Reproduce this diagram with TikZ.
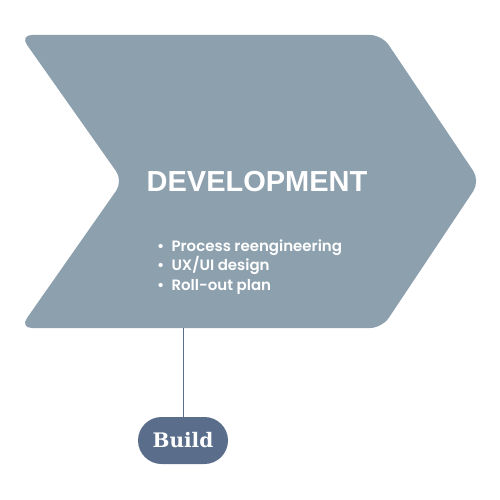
\documentclass[tikz,border=0pt]{standalone}
\usepackage{fontspec}
\setmainfont{Poppins}[BoldFont={Poppins SemiBold}]
\newfontfamily\titlefont{Liberation Sans}
\newfontfamily\slabfont{DejaVu Serif}
\definecolor{chev}{HTML}{8DA0AE}
\definecolor{pill}{HTML}{5A6E8C}
\tikzset{
  chevshape/.style={fill=chev, rounded corners=12pt},
  titletext/.style={text=white, font=\titlefont\bfseries\fontsize{29}{29}\selectfont, inner sep=0pt},
  bullettext/.style={text=white, font=\fontsize{15}{19.5}\selectfont\bfseries, align=left, inner sep=0pt, anchor=west},
  pillbox/.style={fill=pill, text=white, rounded corners=23.5pt, minimum width=90pt, minimum height=47pt, inner sep=0pt, font=\slabfont\bfseries\fontsize{20}{20}\selectfont},
  link/.style={draw=pill, line width=1pt}
}
\begin{document}
\begin{tikzpicture}[x=1pt,y=-1pt]
\useasboundingbox (0,0) rectangle (500,500);
\fill[chevshape] (20,35) -- (382,35) -- (480,181) -- (382,328) -- (20,328) -- (123,181) -- cycle;
\coordinate (chevbot) at (183,328);
\node[titletext] (title) at (257,182) {DEVELOPMENT};
\node[bullettext] (bullets) at (157,267) {\textbullet\ \ Process reengineering\\ \textbullet\ \ UX/UI design\\ \textbullet\ \ Roll-out plan};
\node[pillbox] (build) at (183,440.5) {Build};
\draw[link] (chevbot) -- (build.north);
\end{tikzpicture}
\end{document}
